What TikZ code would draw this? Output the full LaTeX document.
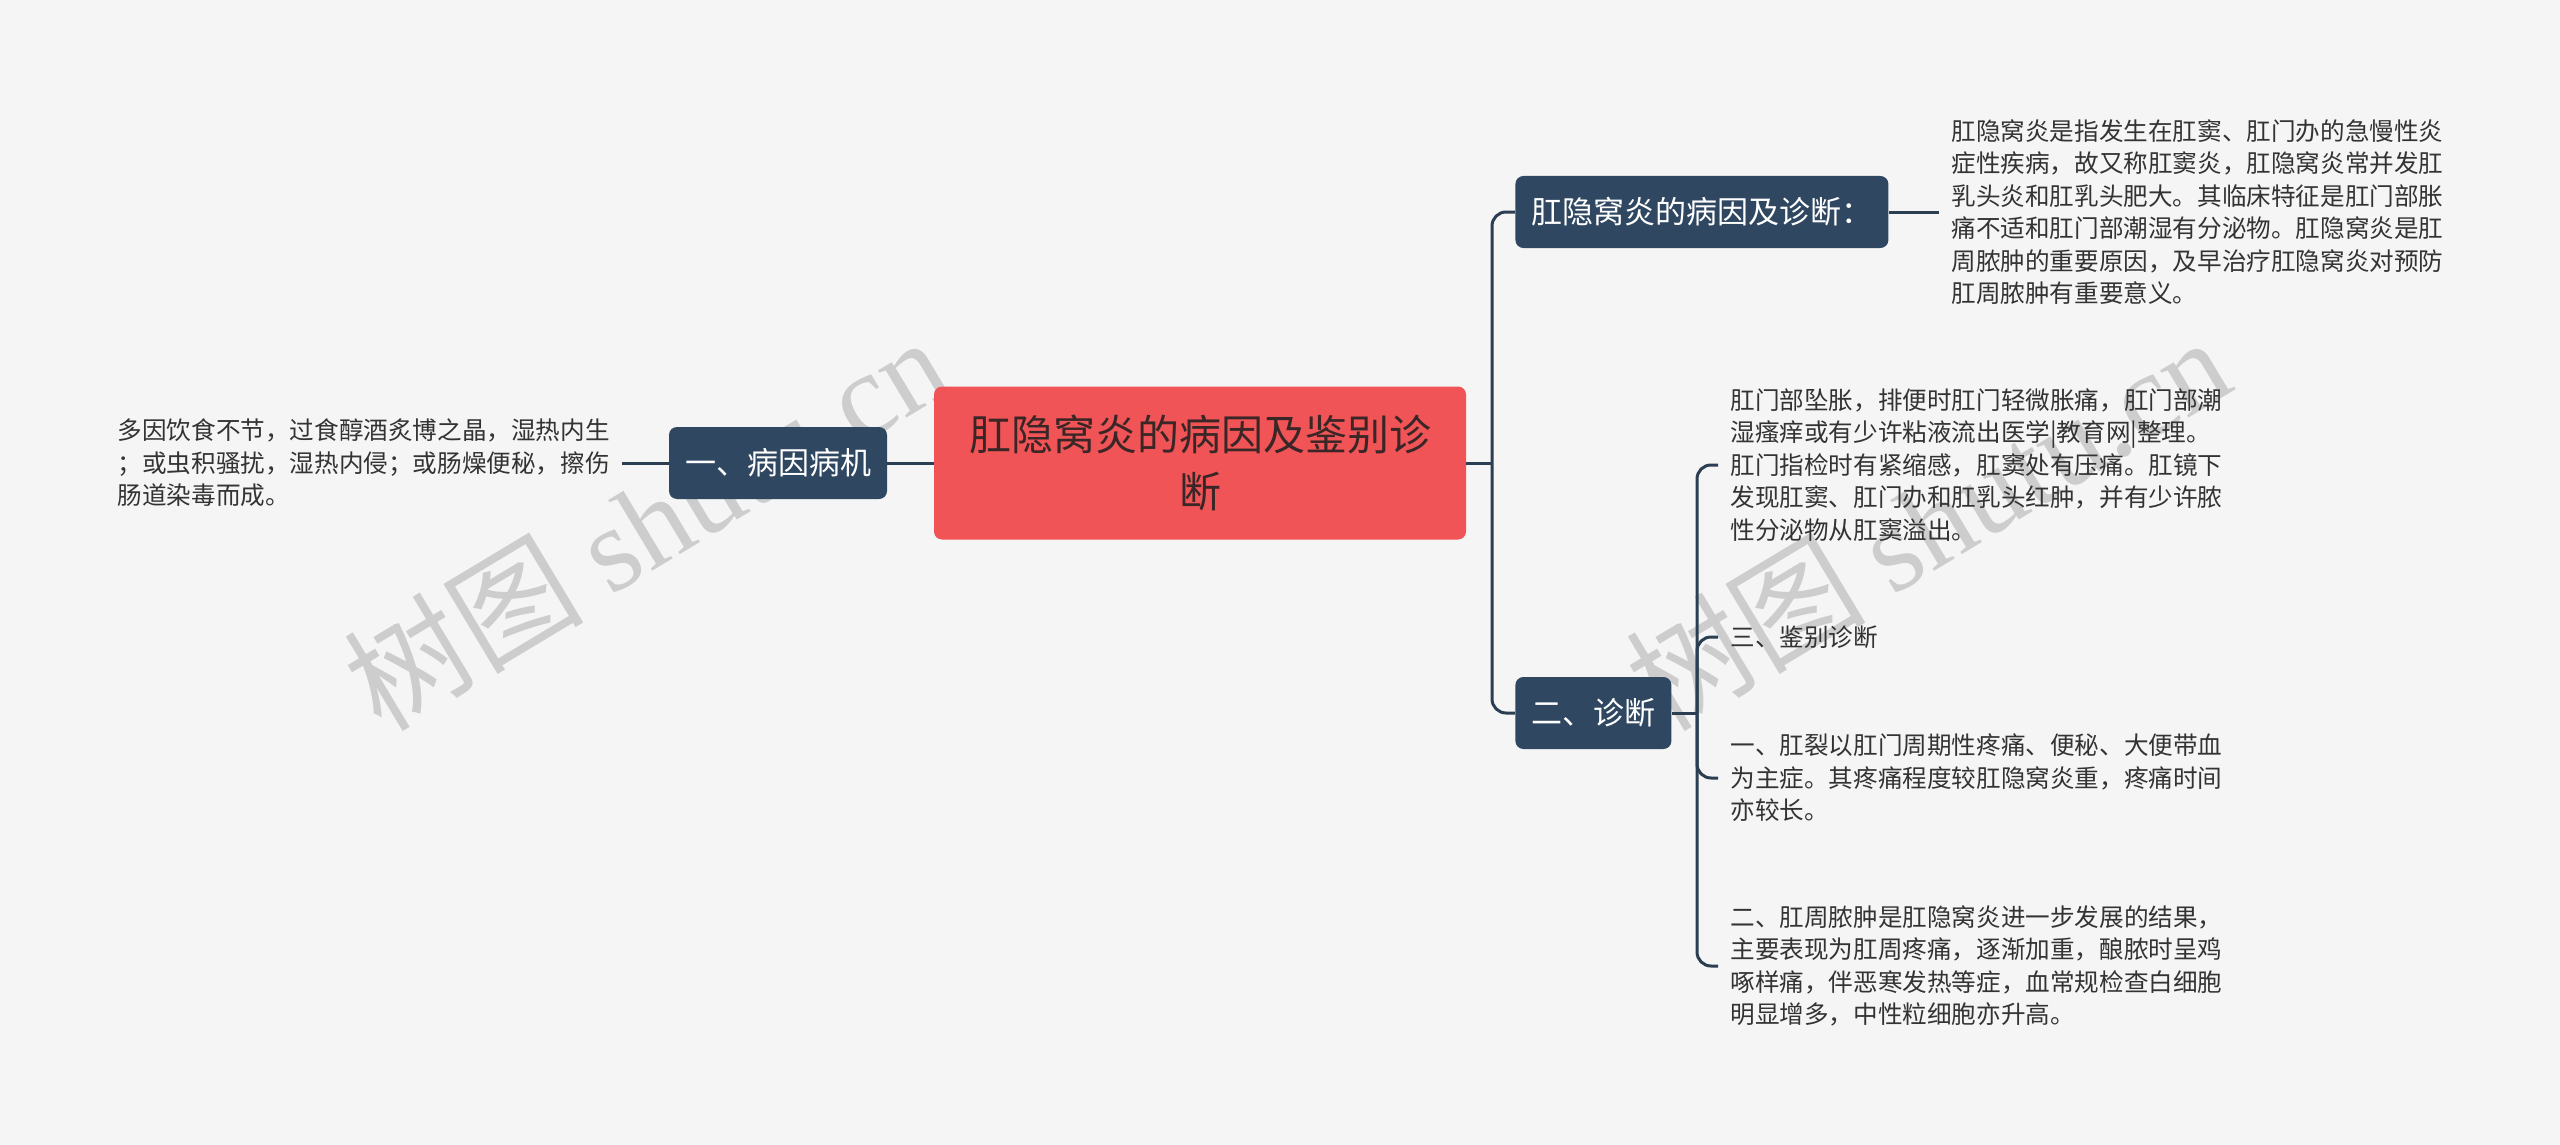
\documentclass[tikz,border=0pt]{standalone}
\usepackage{fontspec}
\setmainfont{Noto Sans CJK SC}
\newfontfamily\markserif{Liberation Serif}
\definecolor{bgcol}{HTML}{F5F5F5}
\definecolor{navy}{HTML}{2F4760}
\definecolor{linecol}{HTML}{2B3E52}
\definecolor{rootred}{HTML}{F05456}
\definecolor{roottext}{HTML}{3A2626}
\definecolor{bodytext}{HTML}{333333}
\definecolor{markgray}{HTML}{CDCDCD}
\begin{document}
\begin{tikzpicture}[x=0.5pt,y=-0.5pt,
    rootbox/.style={fill=rootred,rounded corners=4pt,text=roottext,minimum width=266pt,minimum height=76.5pt,align=center,font=\fontsize{21}{28.5}\selectfont},
    topicbox/.style={fill=navy,rounded corners=4pt,text=white,minimum height=36pt,inner xsep=8pt,font=\fontsize{15.5}{18}\selectfont},
    notetext/.style={text=bodytext,align=left,inner sep=6pt,font=\fontsize{12.3}{16.25}\selectfont},
    link/.style={draw=linecol,line width=1.5pt,rounded corners=7pt},
    wmark/.style={text=markgray,rotate=31,font=\fontsize{60}{60}\selectfont}]
      \useasboundingbox (0,0) rectangle (2560,1145);
      \fill[bgcol] (0,0) rectangle (2560,1145);
      \node[wmark] (markleft) at (645,522) {树图 {\markserif shutu.cn}};
      \node[wmark] (markright) at (1927,522) {树图 {\markserif shutu.cn}};
      \node[rootbox] (root) at (1200,463) {肛隐窝炎的病因及鉴别诊\\断};
      \node[topicbox] (cause) at (778,463) {一、病因病机};
      \node[notetext,anchor=east] (causenote) at (622,463) {多因饮食不节，过食醇酒炙博之晶，湿热内生\\；或虫积骚扰，湿热内侵；或肠燥便秘，擦伤\\肠道染毒而成。};
      \node[topicbox,anchor=west] (basis) at (1515,212) {肛隐窝炎的病因及诊断：};
      \node[notetext,anchor=west] (basisnote) at (1939,212) {肛隐窝炎是指发生在肛窦、肛门办的急慢性炎\\症性疾病，故又称肛窦炎，肛隐窝炎常并发肛\\乳头炎和肛乳头肥大。其临床特征是肛门部胀\\痛不适和肛门部潮湿有分泌物。肛隐窝炎是肛\\周脓肿的重要原因，及早治疗肛隐窝炎对预防\\肛周脓肿有重要意义。};
      \node[topicbox,anchor=west] (diag) at (1515,713) {二、诊断};
      \node[notetext,anchor=west] (diagnote1) at (1718,465) {肛门部坠胀，排便时肛门轻微胀痛，肛门部潮\\湿瘙痒或有少许粘液流出医学|教育网|整理。\\肛门指检时有紧缩感，肛窦处有压痛。肛镜下\\发现肛窦、肛门办和肛乳头红肿，并有少许脓\\性分泌物从肛窦溢出。};
      \node[notetext,anchor=west] (diagnote2) at (1718,637) {三、鉴别诊断};
      \node[notetext,anchor=west] (diagnote3) at (1718,778) {一、肛裂以肛门周期性疼痛、便秘、大便带血\\为主症。其疼痛程度较肛隐窝炎重，疼痛时间\\亦较长。};
      \node[notetext,anchor=west] (diagnote4) at (1718,966) {二、肛周脓肿是肛隐窝炎进一步发展的结果，\\主要表现为肛周疼痛，逐渐加重，酿脓时呈鸡\\啄样痛，伴恶寒发热等症，血常规检查白细胞\\明显增多，中性粒细胞亦升高。};
      \coordinate (rootjoint) at (1492,463);
      \coordinate (diagjoint) at (1697,713);
      \draw[link] (causenote.east) -- (cause.west);
      \draw[link] (cause.east) -- (root.west);
      \draw[link] (root.east) -- (rootjoint);
      \draw[link] (rootjoint) |- (basis.west);
      \draw[link] (rootjoint) |- (diag.west);
      \draw[link] (basis.east) -- (basisnote.west);
      \draw[link] (diag.east) -- (diagjoint);
      \foreach \n in {1,...,4}
        \draw[link] (diagjoint) |- (diagnote\n.west);
    \end{tikzpicture}
\end{document}
